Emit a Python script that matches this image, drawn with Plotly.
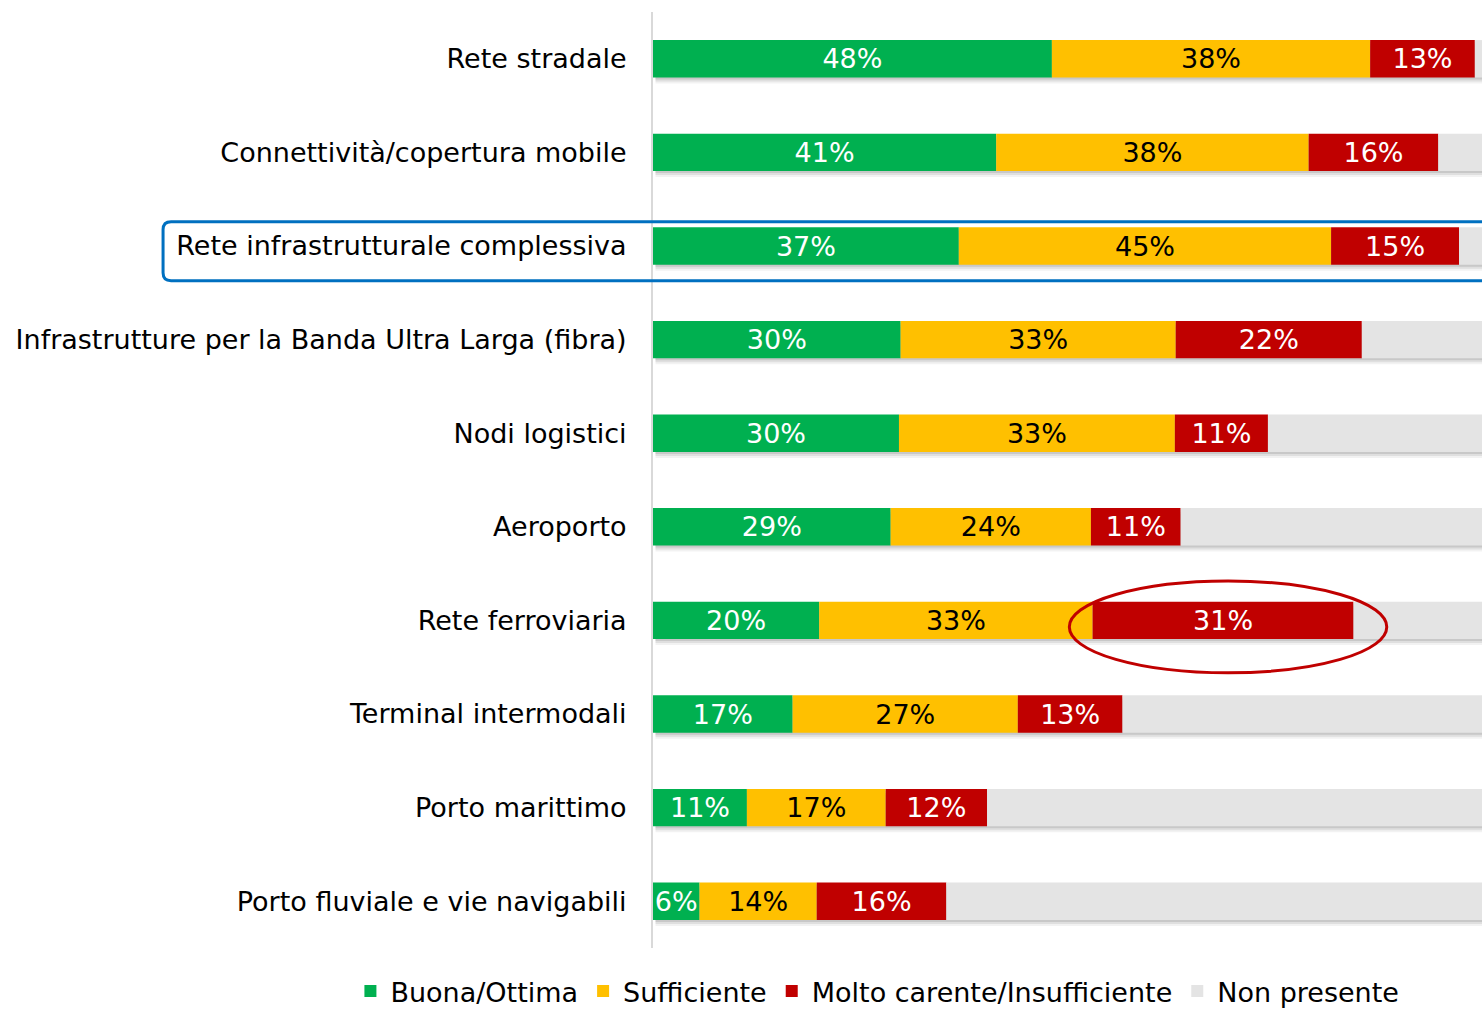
import plotly.graph_objects as go

categories = [
    "Rete stradale",
    "Connettività/copertura mobile",
    "Rete infrastrutturale complessiva",
    "Infrastrutture per la Banda Ultra Larga (fibra)",
    "Nodi logistici",
    "Aeroporto",
    "Rete ferroviaria",
    "Terminal intermodali",
    "Porto marittimo",
    "Porto fluviale e vie navigabili",
]
buona = [48.0, 41.3, 36.8, 29.8, 29.6, 28.6, 20.0, 16.8, 11.3, 5.6]
sufficiente = [38.3, 37.6, 44.8, 33.1, 33.2, 24.1, 32.9, 27.1, 16.7, 14.1]
carente = [12.6, 15.6, 15.4, 22.4, 11.2, 10.8, 31.4, 12.6, 12.2, 15.6]
non_presente = [round(100 - b - s - c, 1) for b, s, c in zip(buona, sufficiente, carente)]

series_names = ["Buona/Ottima", "Sufficiente", "Molto carente/Insufficiente", "Non presente"]
series_values = [buona, sufficiente, carente, non_presente]
series_colors = ["#00B050", "#FFC000", "#C00000", "#E4E4E4"]
label_colors = ["white", "black", "white", None]

highlight_row = "Rete infrastrutturale complessiva"
circled_row = "Rete ferroviaria"

FONT = "DejaVu Sans, Verdana, sans-serif"
ypos = list(range(len(categories)))
BAR_W = 0.4
PX = 1 / 93.6  # one pixel in category units

fig = go.Figure()

# soft shadow under each full bar
totals = [b + s + c + n for b, s, c, n in zip(buona, sufficiente, carente, non_presente)]
for k, alpha in [(2, 0.10), (4, 0.08), (6, 0.05)]:
    fig.add_trace(go.Bar(
        y=ypos, x=totals, base=[0.3] * len(ypos), orientation="h",
        width=BAR_W, offset=-BAR_W / 2 + k * PX,
        marker=dict(color=f"rgba(0,0,0,{alpha})", line=dict(width=0)),
        showlegend=False, hoverinfo="skip",
    ))

cum = [0.0] * len(categories)
for name, vals, color, lcol in zip(series_names, series_values, series_colors, label_colors):
    fig.add_trace(go.Bar(
        y=ypos, x=vals, base=list(cum), orientation="h", name=name,
        width=BAR_W, offset=-BAR_W / 2,
        marker=dict(color=color, line=dict(width=0)),
        text=[f"{round(v)}%" for v in vals] if lcol else None,
        textposition="inside" if lcol else "none",
        insidetextanchor="middle",
        textfont=dict(family=FONT, size=27, color=lcol or "black"),
        hoverinfo="skip",
    ))
    cum = [a + b for a, b in zip(cum, vals)]

# blue rounded rectangle around highlighted row
hi = categories.index(highlight_row)
x0, x1 = -0.591, 1.02
y0, y1 = hi - 0.26, hi + 0.37
rx, ry = 0.0097, 0.085
path = (f"M {x0 + rx},{y0} L {x1 - rx},{y0} Q {x1},{y0} {x1},{y0 + ry} "
        f"L {x1},{y1 - ry} Q {x1},{y1} {x1 - rx},{y1} "
        f"L {x0 + rx},{y1} Q {x0},{y1} {x0},{y1 - ry} "
        f"L {x0},{y0 + ry} Q {x0},{y0} {x0 + rx},{y0} Z")
fig.add_shape(type="path", path=path, xref="paper", yref="y",
              line=dict(color="#0070C0", width=3), fillcolor="rgba(0,0,0,0)")

# red ellipse around the red segment of the circled row
ci = categories.index(circled_row)
red_start = buona[ci] + sufficiente[ci]
red_end = red_start + carente[ci]
fig.add_shape(type="circle", xref="x", yref="y",
              x0=red_start - 2.8, x1=red_end + 4.0,
              y0=ci - 0.42, y1=ci + 0.56,
              line=dict(color="#C00000", width=3))

fig.update_layout(
    width=1482, height=1011,
    margin=dict(l=653, r=0, t=12, b=63, autoexpand=False),
    barmode="overlay",
    plot_bgcolor="white", paper_bgcolor="white",
    font=dict(family=FONT, size=27, color="black"),
    uniformtext=dict(minsize=27, mode="show"),
    xaxis=dict(range=[0, 99.76], showgrid=False, zeroline=False,
               showticklabels=False, showline=False),
    yaxis=dict(tickmode="array", tickvals=ypos, ticktext=categories,
               range=[len(categories) - 0.5, -0.5],
               showgrid=False, zeroline=False,
               showline=True, linecolor="#D9D9D9", linewidth=2,
               ticks="", ticklabelstandoff=19,
               tickfont=dict(family=FONT, size=27, color="black")),
    legend=dict(orientation="h", x=-0.365, xanchor="left",
                y=-0.0726, yanchor="bottom",
                font=dict(family=FONT, size=27, color="black"),
                traceorder="normal", itemclick=False, itemdoubleclick=False),
    showlegend=True,
)

fig.write_html("out.html", config={"displayModeBar": False},
               post_script="document.body.style.margin='0px';")
